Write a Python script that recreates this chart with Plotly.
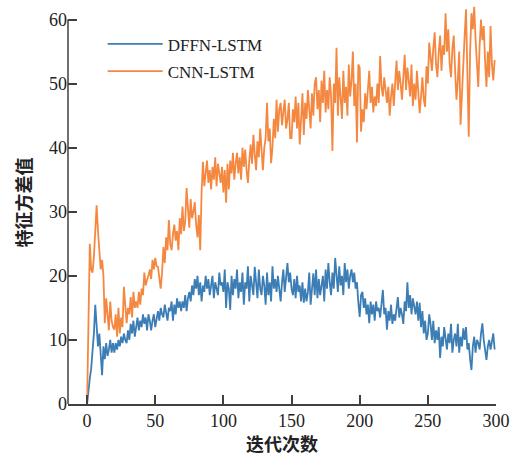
import plotly.graph_objects as go

# iterations 0..299
iters = list(range(300))

# DFFN-LSTM feature variance in blocks of 10
dffn = [
    0, 2.5, 4, 5.5, 8, 11, 15.5, 12, 9, 11,
    8, 4.5, 9, 7, 9.5, 7.5, 8.5, 10, 8, 9.5,
    8, 9.5, 8.5, 10, 9, 10.5, 9.5, 11, 10, 9.5,
    11.5, 10, 12.5, 11, 13, 10.5, 12, 13.5, 11.5, 13,
    12, 14, 12.5, 13.5, 11.5, 14, 13, 11.5, 13, 14,
    12, 13.5, 14.5, 13, 15, 14, 13.5, 15.5, 14, 13,
    15, 14.5, 16, 13, 15.5, 14, 16.5, 15, 16, 14.5,
    16, 15, 17, 14.5, 16.5, 17.5, 16, 18.5, 17, 19.5,
    18, 20, 17, 19, 16, 18.5, 17.5, 20, 18, 19.5,
    17, 18.5, 20, 16.5, 19, 18, 17, 20.5, 18.5, 19,
    17.5, 21, 15, 19, 18, 14.7, 20, 17, 19.5, 18,
    21, 16.5, 19, 17.5, 20.5, 15.5, 19, 18, 21.5, 16,
    20, 18.5, 17, 21.4, 19, 16.5, 21, 18, 17, 20,
    18.5, 15.5, 20.5, 17, 19, 16, 21.5, 18, 19.5, 17.5,
    20, 18, 16, 19, 21, 17.5, 19.5, 22, 19, 20.5,
    18, 17, 19.5, 16.5, 20, 17.5, 18.5, 16, 19, 15.8,
    18, 16, 17.5, 20.5, 15.5, 18, 20.4, 17, 21, 16.5,
    19.5, 17, 18.5, 20, 16, 21, 18, 22, 19, 17,
    20.5, 18, 22.8, 19.5, 17.5, 21.5, 18.5, 20, 17, 22,
    19, 21, 18, 20, 21, 19, 20.5, 18, 19, 15.8,
    13.6, 17, 17.5, 15, 16.5, 14, 15.5, 12.6, 16, 14,
    15.5, 13, 16, 14.5, 15, 13.5, 16, 17.8, 14, 15,
    11.6, 14.5, 13, 15.5, 12.5, 14, 13, 15, 16.7, 13.5,
    15, 14, 12.5, 16, 14.5, 19, 15, 17, 14, 16.5,
    15.5, 14, 16, 13, 15.8, 12, 14.5, 11, 13, 10,
    11, 14, 12.5, 10, 13, 9.5, 11.5, 10, 12, 7.2,
    10.5, 9, 12, 10, 8.5, 11, 9.5, 12.5, 8, 10,
    11, 9, 12.5, 8, 10.5, 9, 11.8, 10, 12, 8.5,
    9.5, 7, 5.3, 9, 10.5, 8, 10, 9.5, 8.5, 11,
    12.6, 10, 8.5, 6.9, 9, 10, 8.5, 9.5, 11, 8.5,
]

# CNN-LSTM feature variance
cnn = [
    0, 12, 25, 21, 20.5, 23, 28, 31, 27, 24,
    21, 22.5, 20, 12.6, 16.5, 14, 11.5, 16, 13, 12,
    11.6, 14, 10.5, 15, 11, 13.5, 12, 18.3, 14.5, 12.6,
    15, 14, 16.7, 13.5, 17.5, 15, 16, 15, 17.5, 15.5,
    18, 17, 20.5, 18.5, 19.4, 20, 21, 19.5, 22.5, 21,
    22.8, 21.5, 21.4, 19.5, 18, 20.5, 24.5, 22, 26, 24,
    28.7, 25, 24, 26.5, 28, 25.5, 27, 24, 29, 26.5,
    30.8, 27, 28.5, 33.7, 30, 27.5, 32, 29, 30, 31.5,
    28, 26, 29.5, 24, 33, 37.8, 34, 36, 38, 34.5,
    36.5, 33.5, 37, 35, 38.5, 34, 37.5, 36, 34.5, 37,
    33, 36.5, 31.4, 37.5, 33.5, 38, 36, 39.2, 35, 37.5,
    39.2, 36, 38.5, 35, 40, 37, 39.7, 36.5, 34.5, 38,
    40.5, 37.5, 42, 39, 36.5, 41, 38.5, 43, 40, 36.5,
    40, 41.5, 47, 41, 43, 37.6, 40, 44.5, 41.5, 47.5,
    42.5, 46, 47, 43.5, 45.6, 47.5, 43, 44.4, 47, 41.5,
    41.5, 46, 44, 48, 43, 47, 40.5, 45, 48.5, 42,
    47, 44.5, 49, 46, 43, 48.5, 45, 50, 51, 46,
    49, 44, 50.5, 47, 52, 45.5, 49, 46, 51, 48,
    39.5, 50, 47, 55.6, 45, 51, 48, 44.5, 52, 47,
    49.5, 45, 53, 48, 50.5, 55, 46.5, 50, 40.8, 53,
    52.5, 42.5, 46, 44, 48.5, 46, 49, 52, 47, 49.5,
    45.5, 48, 46.5, 50, 47, 54.3, 49.5, 48, 51, 49,
    47, 49.5, 45, 48, 50, 46.5, 51, 53.6, 49, 52,
    50, 47.5, 51, 54.5, 49, 52.5, 50.5, 48, 53, 46.5,
    50, 47.5, 52, 49, 45.4, 48, 51, 47.5, 46.4, 52.7,
    50, 56.4, 54, 52, 55.5, 58, 53, 51, 55, 57.5,
    52, 56, 54.5, 61, 55, 58.5, 53, 51, 55.5, 57.5,
    52, 47.5, 50.5, 55, 43.6, 49, 52, 57.5, 61.6, 50,
    41.7, 55, 61, 58.5, 62, 57, 53, 49.5, 56, 60,
    56.8, 59, 53.5, 49.5, 55, 51, 59, 53, 50.5, 53.7,
]

x_ticks = [0, 50, 100, 150, 200, 250, 300]
y_ticks = [0, 10, 20, 30, 40, 50, 60]

blue = "#3b7db4"
orange = "#f58840"
axis_col = "#404040"
serif = "Liberation Serif, Times New Roman, serif"
cjk = "Noto Sans CJK SC"

fig = go.Figure()
fig.add_trace(go.Scatter(x=iters, y=dffn, mode="lines", name="DFFN-LSTM",
                         legendgroup="a", line=dict(color=blue, width=1.8)))
fig.add_trace(go.Scatter(x=iters, y=cnn, mode="lines", name="CNN-LSTM",
                         legendgroup="b", line=dict(color=orange, width=1.8)))

# left axis line only up to 60, like the original
fig.add_shape(type="line", xref="paper", yref="y", x0=0, x1=0, y0=0, y1=60,
              line=dict(color=axis_col, width=1.5))

# axis titles as annotations so they sit exactly where the original has them
fig.add_annotation(text="<b>迭代次数</b>", xref="paper", yref="paper", x=0.5, y=0,
                   xanchor="center", yanchor="middle", yshift=-39, showarrow=False,
                   font=dict(family=cjk, size=18, color="#222"))
fig.add_annotation(text="<b>特征方差值</b>", xref="paper", yref="paper", x=0, y=0.5,
                   xanchor="center", yanchor="middle", xshift=-46, textangle=-90,
                   showarrow=False, font=dict(family=cjk, size=18, color="#222"))

fig.update_layout(
    template="none",
    width=522, height=455,
    margin=dict(l=68, r=26, t=1, b=51),
    plot_bgcolor="white", paper_bgcolor="white",
    showlegend=True,
    legend=dict(x=0.081, y=0.937, xanchor="left", yanchor="top",
                bgcolor="rgba(0,0,0,0)", font=dict(family=serif, size=17, color="#222"),
                itemwidth=55, tracegroupgap=2),
    xaxis=dict(range=[-14, 300], tickvals=x_ticks, ticks="inside", ticklen=9,
               tickcolor=axis_col, tickwidth=1.5, showline=True, linecolor=axis_col,
               linewidth=1.5, showgrid=False, zeroline=False, automargin=False,
               tickfont=dict(family=serif, size=18, color="#222")),
    yaxis=dict(range=[0, 62.9], tickvals=y_ticks, ticks="inside", ticklen=9,
               tickcolor=axis_col, tickwidth=1.5, showline=False, showgrid=False,
               zeroline=False, automargin=False,
               tickfont=dict(family=serif, size=18, color="#222")),
)

# page body has a default 8px margin; drop it so the figure sits at the corner
fig.write_html("out.html", config={"displayModeBar": False},
               post_script="document.body.style.margin='0px';")
